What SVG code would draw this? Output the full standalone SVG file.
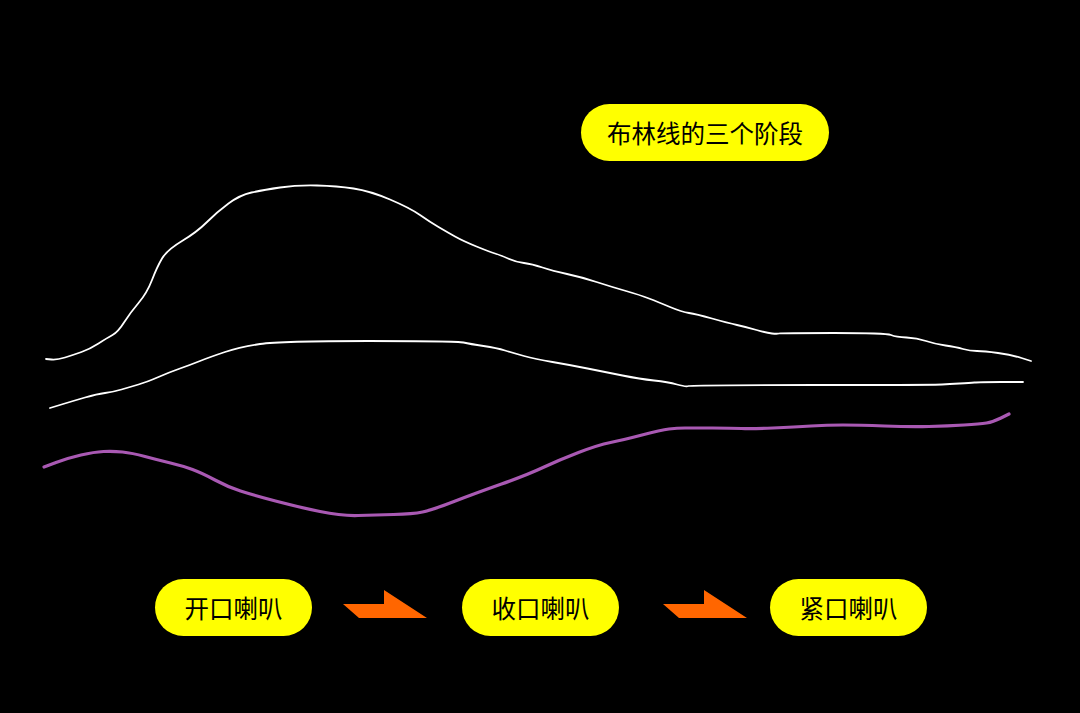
<svg xmlns="http://www.w3.org/2000/svg" width="1080" height="713" viewBox="0 0 1080 713">
<style>
.bg{fill:#000}
.w{fill:none;stroke:#fff;stroke-width:1.8;stroke-linejoin:round;stroke-linecap:round}
.p{fill:none;stroke:#a959b3;stroke-width:3.2;stroke-linejoin:round;stroke-linecap:round}
.pill{fill:#ffff00}
.t{font-family:"Noto Sans CJK SC","Noto Sans",sans-serif;font-size:24.5px;fill:#000;text-anchor:middle;dominant-baseline:central}
.arr{fill:#ff6600}
</style>
<rect class="bg" x="0" y="0" width="1080" height="713"/>
<g id="curves">
<path class="w" d="M46,359 L51.5,359.5 Q57,360 65,357.5 Q73,355 81.5,352 Q90,349 98.5,343.5 Q107,338 112.5,335 Q118,332 124,322.5 Q130,313 138.5,303 Q147,293 152,280 Q157,267 162,258.5 Q167,250 182,241 Q197,232 207,222 Q217,212 228.5,203.5 Q240,195 251.5,192.5 Q263,190 280,187.5 Q297,185 317,185.5 Q337,186 353.5,188.5 Q370,191 390,199.5 Q410,208 420,215 Q430,222 438.5,227 Q447,232 455,236.5 Q463,241 476.5,246.5 Q490,252 495,253.5 Q500,255 508,258.5 Q516,262 524,263 Q532,264 542.5,267.5 Q553,271 567,274 Q581,277 596.5,282 Q612,287 626,291 Q640,295 649,298.5 Q658,302 670,307 Q682,312 689,313 Q696,314 712,318.5 Q728,323 737,325 Q746,327 756.5,330 Q767,333 772,333.5 Q777,334 779,333.5 Q781,333 833.5,333 Q886,333 891,335 Q896,337 906.5,337.5 Q917,338 926,341 Q935,344 945.5,345.5 Q956,347 963,349 Q970,351 977,351 Q984,351 998,353 Q1012,355 1021.5,358 L1031,361"/>
<path class="w" d="M50,408 L61.5,404.5 Q73,401 85,397.5 Q97,394 105,393 Q113,392 121.5,389.5 Q130,387 138.5,384.5 Q147,382 158.5,377 Q170,372 180,368.5 Q190,365 200,361 Q210,357 225,352 Q240,347 260,344 Q280,341 368.5,341 Q457,341 463.5,342.5 Q470,344 483.5,346 Q497,348 505,350.5 Q513,353 524,356 Q535,359 552.5,362 Q570,365 587.5,368.5 Q605,372 622.5,375.5 Q640,379 654,380.5 Q668,382 677,384.5 Q686,387 688.5,386 Q691,385 813,385 Q935,385 942,384.5 Q949,384 959.5,383.5 Q970,383 974.5,382.5 Q979,382 1001,382 L1023,382"/>
<path class="p" d="M44,467 L56,462.5 Q68,458 81,455 Q94,452 103.5,451.5 Q113,451 122.5,452 Q132,453 145,456.5 Q158,460 170.5,463 Q183,466 192.5,469.5 Q202,473 215,480 Q228,487 240.5,491 Q253,495 275.5,501 Q298,507 320,511.5 Q342,516 358,515.5 Q374,515 393.5,514.5 Q413,514 422.5,512 Q432,510 454,501.5 Q476,493 501.5,484 Q527,475 543,467.5 Q559,460 578.5,452.5 Q598,445 610.5,442.5 Q623,440 642,435 Q661,430 669,429 Q677,428 685,428 Q693,428 712.5,428 Q732,428 741.5,428.5 Q751,429 773,428 Q795,427 811,426 Q827,425 843,425 Q859,425 884.5,426 Q910,427 929,426.5 Q948,426 964,425 Q980,424 986.5,423 Q993,422 1001,418 L1009,414"/>
</g>
<g id="title">
<rect class="pill" x="581" y="104" width="248" height="57" rx="28.5"/>
<text class="t" x="705" y="132.5">布林线的三个阶段</text>
</g>
<g id="stage1">
<rect class="pill" x="155" y="579" width="157" height="57" rx="28.5"/>
<text class="t" x="233.5" y="607.5">开口喇叭</text>
</g>
<g id="stage2">
<rect class="pill" x="462" y="579" width="157" height="57" rx="28.5"/>
<text class="t" x="540.5" y="607.5">收口喇叭</text>
</g>
<g id="stage3">
<rect class="pill" x="770" y="579" width="157" height="57" rx="28.5"/>
<text class="t" x="848.5" y="607.5">紧口喇叭</text>
</g>
<g id="connectors">
<polygon class="arr" points="343,604 384,604 384,590 427,618 359,618"/>
<polygon class="arr" points="663,604 704,604 704,590 747,618 679,618"/>
</g>
</svg>
